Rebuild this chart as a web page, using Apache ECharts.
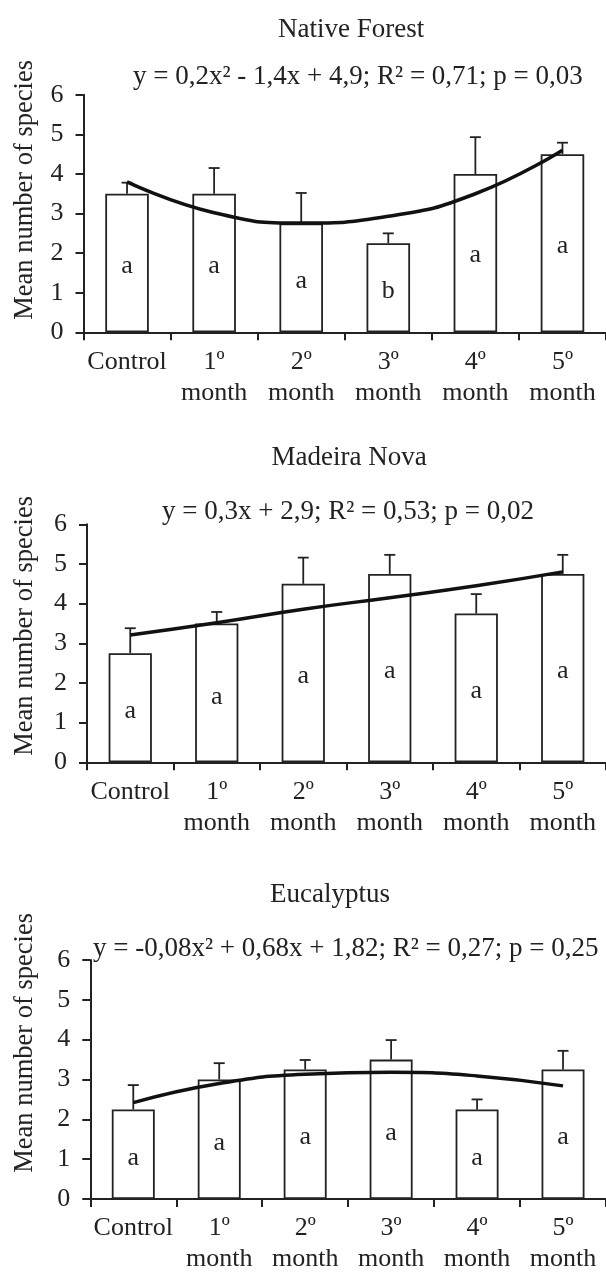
<!DOCTYPE html>
<html>
<head>
<meta charset="utf-8">
<script src="https://cdn.jsdelivr.net/npm/echarts@6/dist/echarts.min.js"></script>
<style>
html,body{margin:0;padding:0;background:#fff;}
#chart{width:606px;height:1275px;}
</style>
</head>
<body>
<div id="chart"></div>
<script>
// ---- data ----
const categories = ['Control', '1º\nmonth', '2º\nmonth', '3º\nmonth', '4º\nmonth', '5º\nmonth'];
const yTicks = [0, 1, 2, 3, 4, 5, 6];

const panelTitles = ['Native Forest', 'Madeira Nova', 'Eucalyptus'];
const equations = [
  'y = 0,2x² - 1,4x + 4,9; R² = 0,71; p = 0,03',
  'y = 0,3x + 2,9; R² = 0,53; p = 0,02',
  'y = -0,08x² + 0,68x + 1,82; R² = 0,27; p = 0,25'
];
const yAxisTitle = 'Mean number of species';

// Native Forest
const nfMean  = [3.5, 3.5, 2.75, 2.25, 4.0, 4.5];
const nfUpper = [3.78, 4.15, 3.52, 2.5, 4.93, 4.79];
const nfTrend = [3.8, 3.02, 2.76, 2.93, 3.5, 4.6];
const nfLetters = ['a', 'a', 'a', 'b', 'a', 'a'];
const nfLetterY = [1.67, 1.67, 1.28, 1.05, 1.95, 2.18];

// Madeira Nova
const mnMean  = [2.75, 3.5, 4.5, 4.75, 3.75, 4.75];
const mnUpper = [3.38, 3.79, 5.16, 5.23, 4.24, 5.23];
const mnTrend = [3.21, 3.52, 3.86, 4.15, 4.45, 4.8];
const mnLetters = ['a', 'a', 'a', 'a', 'a', 'a'];
const mnLetterY = [1.3, 1.65, 2.16, 2.29, 1.79, 2.29];

// Eucalyptus
const euMean  = [2.25, 3.0, 3.25, 3.5, 2.25, 3.25];
const euUpper = [2.86, 3.41, 3.49, 3.99, 2.5, 3.72];
const euTrend = [2.42, 2.9, 3.13, 3.18, 3.09, 2.84];
const euLetters = ['a', 'a', 'a', 'a', 'a', 'a'];
const euLetterY = [1.02, 1.4, 1.54, 1.65, 1.02, 1.54];

// ---- build ----
const FONT = 'Liberation Serif';
const INK = '#222';
const FS = 26;
const FS_T = 27;

const panels = [
  {mean: nfMean, upper: nfUpper, trend: nfTrend, letters: nfLetters, letterY: nfLetterY,
   grid: {left: 83.5, top: 94.8, width: 528, height: 237.5},
   titleX: 278, titleY: 30, eqX: 133, eqY: 77, ylabEnd: 60},
  {mean: mnMean, upper: mnUpper, trend: mnTrend, letters: mnLetters, letterY: mnLetterY,
   grid: {left: 87, top: 524.3, width: 525, height: 238},
   titleX: 271.5, titleY: 458, eqX: 162, eqY: 512, ylabEnd: 496},
  {mean: euMean, upper: euUpper, trend: euTrend, letters: euLetters, letterY: euLetterY,
   grid: {left: 90.3, top: 960, width: 521, height: 239},
   titleX: 270, titleY: 895, eqX: 93, eqY: 949, ylabEnd: 913}
];

const grids = [], xAxes = [], yAxes = [], series = [], graphics = [];

function errRender(params, api) {
  const x = api.value(0), lo = api.value(1), hi = api.value(2);
  const p0 = api.coord([x, lo]);
  const p1 = api.coord([x, hi]);
  const half = 5.5;
  const st = {stroke: INK, lineWidth: 1.8};
  return {
    type: 'group',
    children: [
      {type: 'line', shape: {x1: p0[0], y1: p0[1], x2: p1[0], y2: p1[1]}, style: st},
      {type: 'line', shape: {x1: p1[0] - half, y1: p1[1], x2: p1[0] + half, y2: p1[1]}, style: st}
    ]
  };
}

panels.forEach((p, i) => {
  grids.push(p.grid);
  xAxes.push({
    type: 'category', gridIndex: i, data: categories, boundaryGap: true,
    axisLine: {lineStyle: {color: INK, width: 2}},
    axisTick: {show: true, length: 8, lineStyle: {color: INK, width: 2}},
    axisLabel: {color: INK, fontFamily: FONT, fontSize: FS, margin: 14, lineHeight: 31, interval: 0}
  });
  yAxes.push({
    type: 'value', gridIndex: i, min: 0, max: 6, interval: 1,
    axisLine: {show: true, lineStyle: {color: INK, width: 2}},
    axisTick: {show: true, length: 8, lineStyle: {color: INK, width: 2}},
    splitLine: {show: false},
    axisLabel: {color: INK, fontFamily: FONT, fontSize: FS, margin: 20,
      formatter: v => yTicks.includes(v) ? String(v) : ''}
  });
  series.push({
    type: 'bar', xAxisIndex: i, yAxisIndex: i, data: p.mean, barWidth: '50%',
    itemStyle: {color: '#fff', borderColor: INK, borderWidth: 1.8},
    z: 2, silent: true
  });
  series.push({
    type: 'custom', xAxisIndex: i, yAxisIndex: i,
    data: p.mean.map((m, k) => [k, m, p.upper[k]]),
    renderItem: errRender, z: 3, silent: true
  });
  series.push({
    type: 'line', xAxisIndex: i, yAxisIndex: i, data: p.trend,
    smooth: true, showSymbol: false, symbol: 'none',
    lineStyle: {color: '#111', width: 3.5}, z: 4, silent: true
  });
  series.push({
    type: 'scatter', xAxisIndex: i, yAxisIndex: i,
    data: p.letterY.map((y, k) => [k, y]),
    symbolSize: 0, itemStyle: {color: 'rgba(0,0,0,0)'},
    label: {show: true, position: 'inside', formatter: prm => p.letters[prm.dataIndex],
      color: INK, opacity: 1, fontFamily: FONT, fontSize: FS},
    z: 5, silent: true
  });
  graphics.push({
    type: 'text', x: p.titleX, y: p.titleY,
    style: {text: panelTitles[i], fill: INK, font: FS_T + 'px "' + FONT + '"', align: 'left', verticalAlign: 'middle'}
  });
  graphics.push({
    type: 'text', x: p.eqX, y: p.eqY,
    style: {text: equations[i], fill: INK, font: FS_T + 'px "' + FONT + '"', align: 'left', verticalAlign: 'middle'}
  });
  graphics.push({
    type: 'text', x: 25, y: p.ylabEnd, rotation: Math.PI / 2,
    style: {text: yAxisTitle, fill: INK, font: '26.5px "' + FONT + '"', align: 'right', verticalAlign: 'middle'}
  });
});

const chart = echarts.init(document.getElementById('chart'), null, {renderer: 'canvas'});
chart.setOption({
  animation: false,
  backgroundColor: '#fff',
  grid: grids,
  xAxis: xAxes,
  yAxis: yAxes,
  series: series,
  graphic: graphics
});
</script>
</body>
</html>
